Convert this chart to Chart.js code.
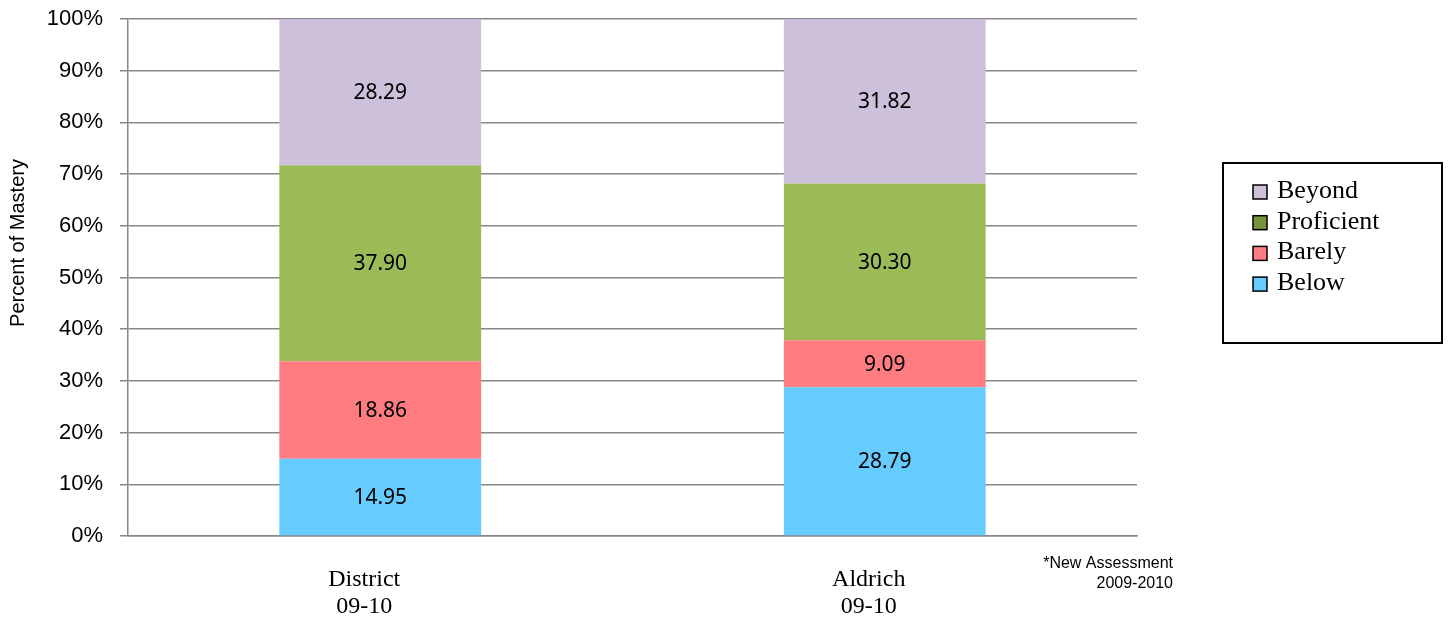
<!DOCTYPE html>
<html><head><meta charset="utf-8">
<script src="https://cdn.jsdelivr.net/npm/chart.js@4/dist/chart.umd.min.js"></script>
<style>html,body{margin:0;padding:0;background:#fff}#wrap{position:relative;width:1448px;height:623px}</style>
</head><body><div id="wrap"><canvas id="c"></canvas></div>
<script>
// ---- data ----
const categories = [['District', '09-10'], ['Aldrich', '09-10']];
const seriesNames = ['Below', 'Barely', 'Proficient', 'Beyond'];
const below = [14.95, 28.79];
const barely = [18.86, 9.09];
const proficient = [37.90, 30.30];
const beyond = [28.29, 31.82];
const yTickValues = [0, 10, 20, 30, 40, 50, 60, 70, 80, 90, 100];
const yTitle = 'Percent of Mastery';
const noteLines = ['*New Assessment', '2009-2010'];
const legendOrder = ['Beyond', 'Proficient', 'Barely', 'Below'];

// ---- styles ----
const seriesColors = ['#66CCFF', '#FF7C80', '#9BBB59', '#CCC0DA'];
const legendColors = {Beyond: '#CCC0DA', Proficient: '#77933C', Barely: '#FF7C80', Below: '#66CCFF'};
const seriesValues = [below, barely, proficient, beyond];
const gridColor = '#878787';

const datasets = seriesNames.map((name, i) => ({
  label: name,
  data: seriesValues[i],
  backgroundColor: seriesColors[i],
  borderWidth: 0,
  barPercentage: 0.4,
  categoryPercentage: 1.0
}));

const valueLabels = {
  id: 'valueLabels',
  afterDatasetsDraw(chart) {
    const ctx = chart.ctx;
    ctx.save();
    ctx.font = '21px "Noto Sans"';
    ctx.fillStyle = '#000';
    ctx.textAlign = 'center';
    ctx.textBaseline = 'middle';
    chart.data.datasets.forEach((ds, di) => {
      const meta = chart.getDatasetMeta(di);
      meta.data.forEach((bar, j) => {
        const p = bar.getProps(['x', 'y', 'base'], true);
        ctx.fillText(Number(ds.data[j]).toFixed(2), p.x, (p.y + p.base) / 2 + 1);
      });
    });
    ctx.restore();
  }
};

const extras = {
  id: 'extras',
  afterDraw(chart) {
    const ctx = chart.ctx;
    ctx.save();
    // y-axis title
    ctx.translate(18, 243);
    ctx.rotate(-Math.PI / 2);
    ctx.font = '20px "Liberation Sans", Arial, sans-serif';
    ctx.fillStyle = '#000';
    ctx.textAlign = 'center';
    ctx.textBaseline = 'middle';
    ctx.fillText(yTitle, 0, 0);
    ctx.restore();

    // note
    ctx.save();
    ctx.font = '16px "Liberation Sans", Arial, sans-serif';
    ctx.fillStyle = '#000';
    ctx.textAlign = 'right';
    ctx.textBaseline = 'middle';
    noteLines.forEach((t, i) => ctx.fillText(t, 1173, 564 + i * 20));
    ctx.restore();

    // legend
    ctx.save();
    ctx.strokeStyle = '#000';
    ctx.lineWidth = 2;
    ctx.strokeRect(1223, 163, 219, 180);
    ctx.font = '26px "Liberation Serif", "Times New Roman", serif';
    ctx.textAlign = 'left';
    ctx.textBaseline = 'middle';
    legendOrder.forEach((name, i) => {
      const ds = chart.data.datasets.find(d => d.label === name);
      const cy = 191 + i * 30.7;
      ctx.fillStyle = legendColors[name] || ds.backgroundColor;
      ctx.fillRect(1253, cy - 6, 14, 14);
      ctx.lineWidth = 1.5;
      ctx.strokeStyle = '#000';
      ctx.strokeRect(1253, cy - 6, 14, 14);
      ctx.fillStyle = '#000';
      ctx.fillText(ds.label, 1277, cy);
    });
    ctx.restore();
  }
};

new Chart(document.getElementById('c'), {
  type: 'bar',
  data: {labels: categories, datasets},
  options: {
    responsive: true,
    maintainAspectRatio: false,
    animation: false,
    layout: {padding: {left: 0, right: 311, top: 19, bottom: 0}},
    plugins: {legend: {display: false}, tooltip: {enabled: false}},
    scales: {
      x: {
        stacked: true,
        grid: {display: false, drawTicks: false},
        border: {display: true, color: gridColor, width: 1.5},
        ticks: {
          color: '#000',
          font: {family: '"Liberation Serif", "Times New Roman", serif', size: 24, lineHeight: 1.125},
          padding: 30,
          labelOffset: -16,
          maxRotation: 0,
          autoSkip: false
        },
        afterFit: s => { s.height = 87; s.paddingLeft = 0; s.paddingRight = 0; }
      },
      y: {
        stacked: true,
        min: 0,
        max: 100,
        afterBuildTicks: s => { s.ticks = yTickValues.map(v => ({value: v})); },
        ticks: {
          color: '#000',
          font: {family: '"Liberation Sans", Arial, sans-serif', size: 22},
          padding: 17,
          callback: v => v + '%'
        },
        grid: {color: gridColor, lineWidth: 1.5, tickLength: 8, drawTicks: true},
        border: {display: true, color: gridColor, width: 1.5},
        afterFit: s => { s.width = 128; s.paddingTop = 0; s.paddingBottom = 0; }
      }
    }
  },
  plugins: [valueLabels, extras]
});
</script>
</body></html>
